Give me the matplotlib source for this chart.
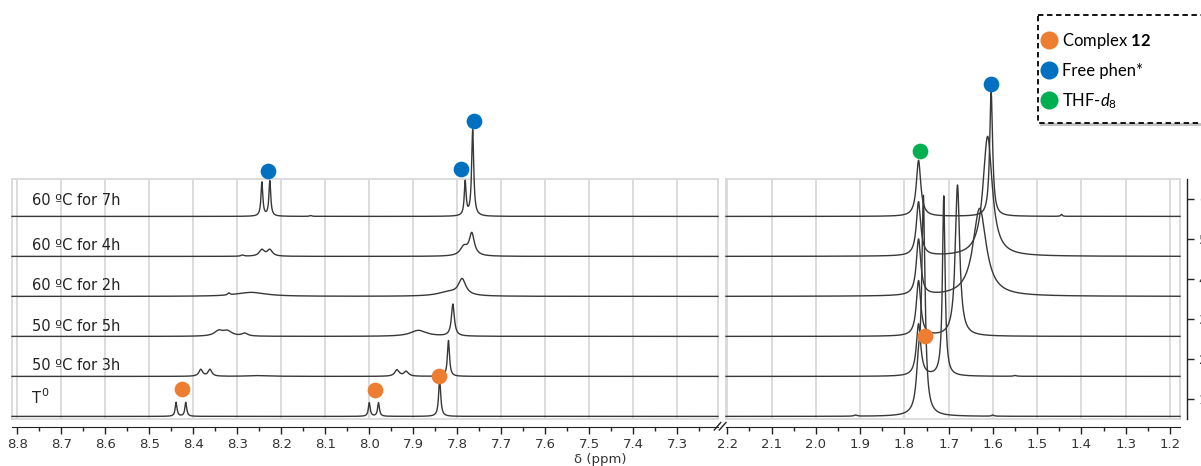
import numpy as np
import matplotlib
matplotlib.use("Agg")
import matplotlib.pyplot as plt
from matplotlib.ticker import MultipleLocator, FormatStrFormatter
from matplotlib.patches import Rectangle
from matplotlib.transforms import offset_copy

plt.rcParams['font.family'] = ['DejaVu Sans']
plt.rcParams['mathtext.fontset'] = 'custom'
plt.rcParams['mathtext.rm'] = 'Lato'
plt.rcParams['mathtext.it'] = 'Lato:italic'
plt.rcParams['mathtext.bf'] = 'Lato:bold'

# ---------------- data ----------------
labels = ["T", "50 ºC for 3h", "50 ºC for 5h", "60 ºC for 2h", "60 ºC for 4h", "60 ºC for 7h"]

# peaks: (shift ppm, height, half-width ppm) — aromatic region
t0_arom = [(8.439, 0.35, 0.0025), (8.417, 0.35, 0.0025), (8.000, 0.34, 0.0025),
           (7.979, 0.34, 0.0025), (7.840, 0.95, 0.0028)]
h3_arom = [(8.383, 0.17, 0.005), (8.362, 0.17, 0.005), (8.25, 0.02, 0.03),
           (7.937, 0.16, 0.006), (7.916, 0.12, 0.006), (7.820, 0.90, 0.0028)]
h5_arom = [(8.342, 0.13, 0.012), (8.322, 0.12, 0.012), (8.283, 0.07, 0.008),
           (7.888, 0.15, 0.022), (7.810, 0.80, 0.004)]
h2_arom = [(8.319, 0.05, 0.003), (8.268, 0.10, 0.04), (7.820, 0.10, 0.03),
           (7.789, 0.40, 0.010)]
h4_arom = [(8.288, 0.03, 0.004), (8.244, 0.16, 0.007), (8.226, 0.16, 0.007),
           (7.785, 0.22, 0.010), (7.767, 0.55, 0.007)]
h7_arom = [(8.244, 0.85, 0.0025), (8.226, 0.88, 0.0025), (8.133, 0.02, 0.003),
           (7.782, 0.85, 0.0025), (7.765, 2.15, 0.0028)]

# aliphatic region
t0_ali = [(1.910, 0.03, 0.004), (1.768, 1.0, 0.006), (1.757, 5.3, 0.0045),
          (1.600, 0.03, 0.003)]
h3_ali = [(1.768, 1.3, 0.006), (1.711, 4.5, 0.0035), (1.550, 0.02, 0.004)]
h5_ali = [(1.768, 1.38, 0.006), (1.680, 3.78, 0.006)]
h2_ali = [(1.768, 1.4, 0.006), (1.630, 2.2, 0.018)]
h4_ali = [(1.768, 1.35, 0.006), (1.612, 3.0, 0.0127)]
h7_ali = [(1.768, 1.4, 0.006), (1.604, 3.1, 0.004), (1.445, 0.05, 0.002)]

arom_peaks = [t0_arom, h3_arom, h5_arom, h2_arom, h4_arom, h7_arom]
ali_peaks = [t0_ali, h3_ali, h5_ali, h2_ali, h4_ali, h7_ali]

# peak assignment markers: (shift, stack height)
complex_left = [(8.426, 1.25), (7.987, 1.22), (7.842, 1.575)]
complex_right = [(1.753, 2.575)]
phen_left = [(8.230, 6.70), (7.792, 6.75), (7.762, 7.95)]
phen_right = [(1.604, 8.875)]
thf_right = [(1.765, 7.20)]

c_orange = "#ED7D31"
c_blue = "#0070C0"
c_green = "#00B050"

# ---------------- layout ----------------
W, H = 1201, 466
fig = plt.figure(figsize=(W / 100, H / 100), dpi=100)
axL = fig.add_axes([12 / W, 47 / H, 706 / W, 240 / H])
axR = fig.add_axes([726 / W, 47 / H, 454 / W, 240 / H])

xlimL = (8.812, 7.2075)
xlimR = (2.203, 1.1774)
ylim = (0.5, 6.5)
base0 = 0.565
label_dy = [0.33, 0.17, 0.13, 0.15, 0.15, 0.29]

grid_c = "#d9d9d9"
line_c = "#383838"


def spectrum(x, peaks):
    y = np.zeros_like(x)
    for c, h, w in peaks:
        y += h / (1 + ((x - c) / w) ** 2)
    return y


xL = np.linspace(xlimL[1], xlimL[0], 5000)
xR = np.linspace(xlimR[1], xlimR[0], 5000)

for ax, xs, plist, xl in [(axL, xL, arom_peaks, xlimL), (axR, xR, ali_peaks, xlimR)]:
    ax.set_xlim(*xl)
    ax.set_ylim(*ylim)
    ax.xaxis.set_major_locator(MultipleLocator(0.1))
    ax.xaxis.set_minor_locator(MultipleLocator(0.05))
    ax.xaxis.set_major_formatter(FormatStrFormatter('%.1f'))
    ax.grid(axis='x', which='major', color=grid_c, lw=1.3, zorder=0)
    ax.set_axisbelow(True)
    for i, pk in enumerate(plist):
        ax.plot(xs, base0 + i + spectrum(xs, pk), color=line_c, lw=1.0,
                clip_on=False, zorder=3)
    for s in ['top', 'left', 'right']:
        ax.spines[s].set_color(grid_c)
        ax.spines[s].set_linewidth(1.3)
    ax.spines['bottom'].set_position(('outward', 6))
    ax.spines['bottom'].set_color('#222222')
    ax.axhline(ylim[0], color=grid_c, lw=1.3, clip_on=False, zorder=1)
    ax.tick_params(axis='x', which='major', length=5, width=1, colors='#222222',
                   labelsize=9.5, labelcolor='#333333', pad=3)
    ax.tick_params(axis='x', which='minor', length=3, width=1, colors='#222222')
    ax.tick_params(axis='y', left=False, labelleft=False)
    ax.patch.set_alpha(0)

# right-hand stack axis
axR.yaxis.set_major_locator(MultipleLocator(1))
axR.yaxis.set_major_formatter(FormatStrFormatter('%d'))
axR.tick_params(axis='y', right=True, labelright=True, length=5, width=1,
                colors='#222222', labelsize=9.5, labelcolor='#333333')
axR.spines['right'].set_position(('outward', 5))
axR.spines['right'].set_color('#222222')
axR.spines['right'].set_linewidth(1.0)
axR.axvline(xlimR[1], color=grid_c, lw=1.3, clip_on=False, zorder=1)

# spectrum labels
for i, lab in enumerate(labels):
    axL.text(8.767, base0 + i + label_dy[i], lab, fontsize=10.5, color='#222222',
             va='baseline', ha='left', zorder=4)
# superscript 0 of T0
sup_tr = offset_copy(axL.transData, fig=fig, x=6.6, y=5.5, units='points')
axL.text(8.767, base0 + label_dy[0], "0", fontsize=8, color='#222222',
         va='baseline', ha='left', transform=sup_tr, zorder=4)

# assignment markers
ms = 11.3
for ax, pts, col in [(axL, complex_left, c_orange), (axR, complex_right, c_orange),
                     (axL, phen_left, c_blue), (axR, phen_right, c_blue),
                     (axR, thf_right, c_green)]:
    xs_, ys_ = zip(*pts)
    ax.plot(xs_, ys_, 'o', ms=ms, color=col, mec='none', clip_on=False, zorder=6)

# overlay in pixel coordinates
ov = fig.add_axes([0, 0, 1, 1], zorder=10)
ov.set_xlim(0, W)
ov.set_ylim(H, 0)
ov.axis('off')
ov.patch.set_alpha(0)

# axis break marks
ov.plot([714.3, 720.7], [430, 422.5], color='#222222', lw=1)
ov.plot([719.3, 726.0], [430, 422.5], color='#222222', lw=1)

# x label
ov.text(600, 459, "δ (ppm)", fontsize=9.5, ha='center', va='center', color='#333333')

# legend box
ov.add_patch(Rectangle((1040, 17), 175, 109, facecolor='#9a9a9a', edgecolor='none',
                       alpha=0.6, clip_on=False))
ov.add_patch(Rectangle((1038, 15), 175, 108, facecolor='white', edgecolor='black',
                       lw=1.3, linestyle=(0, (3, 2)), clip_on=False))
leg_items = [(c_orange, r"Complex $\mathbf{12}$"), (c_blue, "Free phen*"),
             (c_green, r"THF-$\mathit{d_8}$")]
for k, (col, txt) in enumerate(leg_items):
    yy = 40 + 30 * k
    ov.plot([1049], [yy], 'o', ms=13, color=col, mec='none', clip_on=False)
    ov.text(1062, yy + 1, txt, fontsize=12, family='Lato', va='center', ha='left',
            color='black')

fig.savefig("out.png", dpi=100)
